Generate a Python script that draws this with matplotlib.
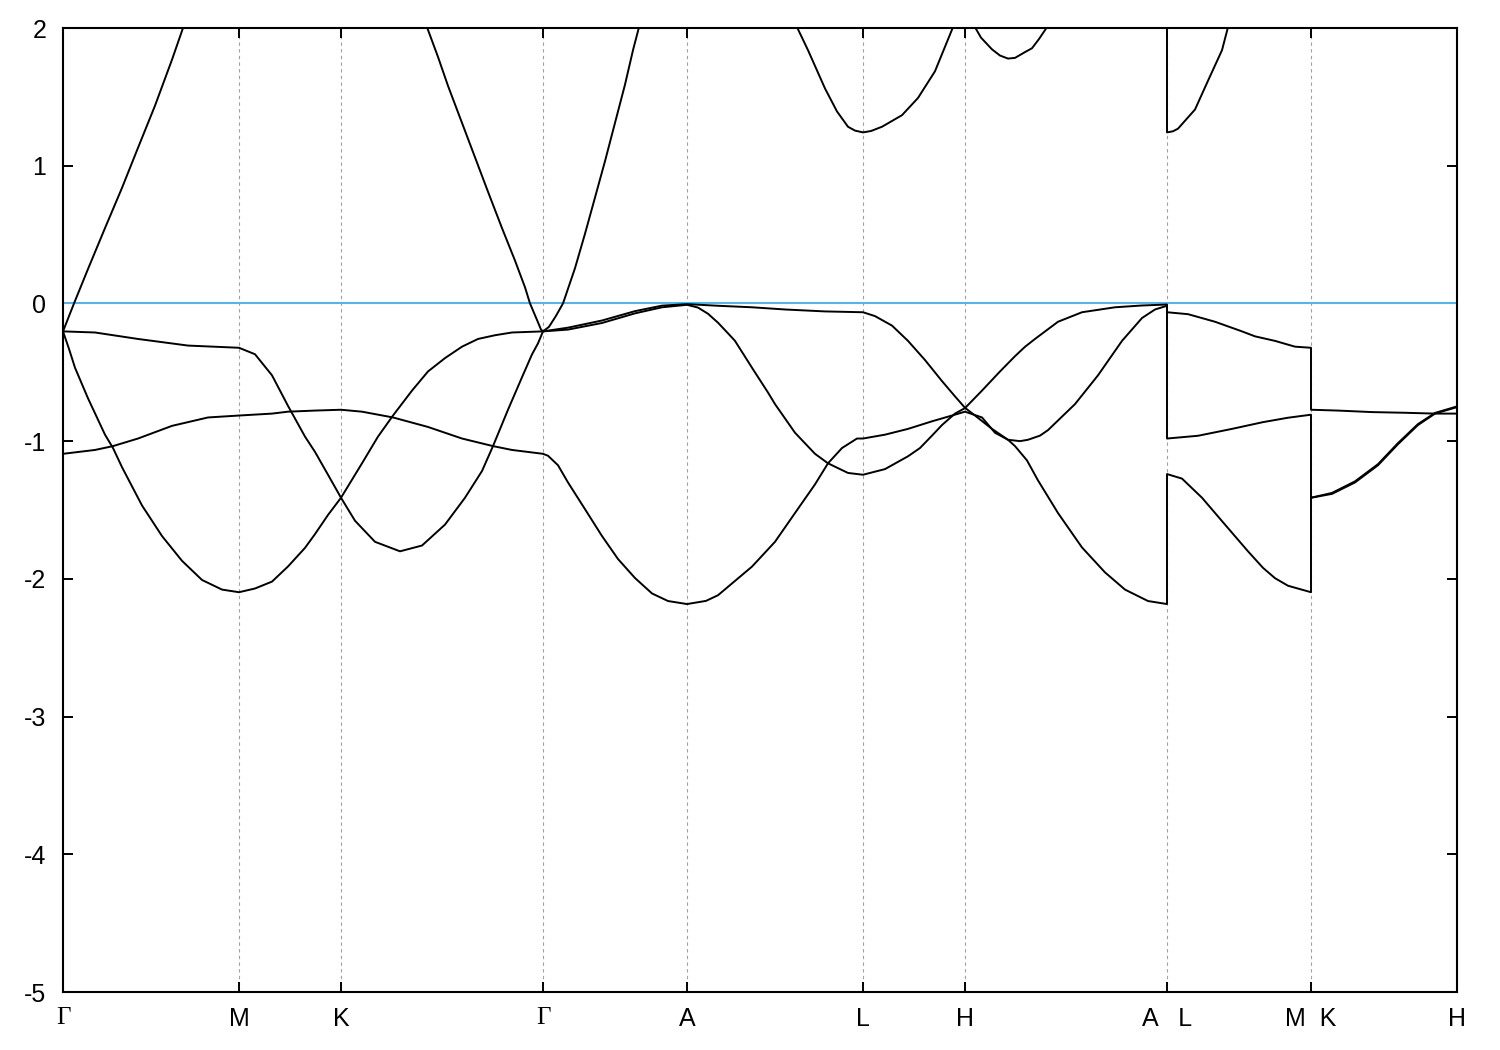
import numpy as np
import matplotlib.pyplot as plt

plt.rcParams['font.family'] = ['Liberation Sans Narrow', 'Liberation Sans', 'DejaVu Sans']
plt.rcParams['axes.unicode_minus'] = False

# high-symmetry points along the path (path length, arbitrary units)
kpts = [0, 176, 278, 480, 624, 800, 902, 1104, 1248, 1394]
klabels = ['Γ', 'M', 'K', 'Γ', 'A', 'L', 'H', 'A   L', 'M  K', 'H']

# band a: conduction band (goes off the top of the window)
band_a_k = [0, 11, 25, 42, 59, 75, 92, 109, 120, 135, 176,
            278, 350, 364, 375, 385, 399, 412, 425, 439, 452, 462, 467, 474, 478, 480,
            486, 493, 500, 512, 522, 532, 542, 552, 562, 570, 576, 590, 624,
            720, 734, 745, 762, 774, 785, 792, 800,
            808, 819, 839, 855, 872, 890, 902,
            912, 918, 929, 937, 945, 952, 962, 969, 976, 984, 1000, 1104,
            1104, 1110, 1115, 1132, 1145, 1159, 1165, 1180, 1248,
            1248, 1394]
band_a_e = [-0.203, 0.0, 0.25, 0.547, 0.839, 1.13, 1.436, 1.77, 2.0, 2.35, 3.0,
            3.0, 2.28, 2.006, 1.79, 1.58, 1.311, 1.061, 0.811, 0.547, 0.311, 0.117, 0.0, -0.12, -0.19, -0.203,
            -0.17, -0.09, 0.0, 0.256, 0.506, 0.769, 1.033, 1.311, 1.589, 1.839, 2.006, 2.4, 3.0,
            2.2, 2.006, 1.839, 1.561, 1.394, 1.283, 1.255, 1.242,
            1.252, 1.283, 1.367, 1.492, 1.686, 2.006, 2.2,
            2.006, 1.93, 1.845, 1.80, 1.778, 1.783, 1.825, 1.853, 1.92, 2.006, 2.3, 3.0,
            1.242, 1.25, 1.269, 1.408, 1.617, 1.839, 2.006, 2.4, 3.0,
            3.0, 2.6]

# band b
band_b_k = [0, 32, 75, 125, 176,
            192, 209, 225, 242, 252, 265, 278,
            292, 312, 337, 359, 382, 402, 419, 430, 445, 459, 469, 475, 480,
            505, 539, 572, 599, 624,
            655, 689, 722, 762, 800,
            812, 829, 845, 862, 879, 892, 902,
            912, 929, 945, 952, 964, 975, 995, 1019, 1042, 1062, 1085, 1104,
            1104, 1119, 1139, 1162, 1185, 1200, 1212, 1225, 1248,
            1248, 1269, 1292, 1315, 1335, 1355, 1372, 1394]
band_b_e = [-0.203, -0.211, -0.258, -0.306, -0.322,
            -0.369, -0.522, -0.744, -0.967, -1.078, -1.244, -1.411,
            -1.578, -1.731, -1.800, -1.758, -1.606, -1.411, -1.217, -1.036, -0.772, -0.536, -0.37, -0.29, -0.203,
            -0.176, -0.124, -0.056, -0.016, -0.005,
            -0.017, -0.028, -0.044, -0.058, -0.064,
            -0.092, -0.161, -0.272, -0.411, -0.564, -0.675, -0.758,
            -0.814, -0.911, -0.990, -1.036, -1.14, -1.285, -1.522, -1.772, -1.953, -2.078, -2.161, -2.183,
            -1.239, -1.272, -1.411, -1.606, -1.800, -1.920, -1.995, -2.050, -2.097,
            -1.411, -1.376, -1.292, -1.167, -1.014, -0.876, -0.795, -0.748]

# band c
band_c_k = [0, 6, 12, 25, 42, 50, 59, 79, 99, 119, 139, 159, 176,
            192, 209, 225, 242, 252, 265, 278,
            299, 315, 330, 349, 365, 382, 399, 415, 432, 449, 480,
            505, 539, 572, 599, 624,
            635, 645, 655, 665, 672, 689, 705, 712, 722, 732, 752, 765, 785, 800,
            822, 845, 857, 869, 879, 892, 902,
            919, 937, 952, 962, 972, 995, 1019, 1052, 1079, 1104,
            1104, 1125, 1152, 1179, 1192, 1212, 1232, 1248,
            1248, 1275, 1309, 1342, 1372, 1394]
band_c_e = [-0.203, -0.33, -0.467, -0.689, -0.953, -1.05, -1.189, -1.467, -1.689, -1.869, -2.008, -2.078, -2.097,
            -2.07, -2.02, -1.91, -1.775, -1.675, -1.536, -1.411,
            -1.161, -0.967, -0.814, -0.633, -0.494, -0.397, -0.314, -0.258, -0.231, -0.211, -0.203,
            -0.190, -0.142, -0.072, -0.028, -0.010,
            -0.03, -0.075, -0.14, -0.217, -0.272, -0.467, -0.647, -0.731, -0.835, -0.939, -1.092, -1.161, -1.231, -1.244,
            -1.203, -1.11, -1.05, -0.96, -0.883, -0.800, -0.760,
            -0.633, -0.494, -0.383, -0.315, -0.258, -0.133, -0.064, -0.028, -0.015, -0.008,
            -0.064, -0.078, -0.133, -0.203, -0.239, -0.272, -0.314, -0.322,
            -0.772, -0.778, -0.789, -0.794, -0.800, -0.800]

# band d
band_d_k = [0, 32, 50, 75, 109, 145, 176,
            209, 225, 252, 278,
            299, 330, 365, 399, 430, 449, 480,
            485, 495, 505, 522, 539, 555, 572, 589, 605, 624,
            643, 655, 689, 712, 732, 752, 765, 779, 794, 800,
            822, 845, 869, 889, 902,
            919, 932, 945, 957, 965, 977, 985, 1012, 1035, 1059, 1079, 1092, 1104,
            1104, 1135, 1169, 1200, 1225, 1248,
            1248, 1269, 1292, 1315, 1335, 1355, 1372, 1394]
band_d_e = [-1.092, -1.064, -1.036, -0.981, -0.889, -0.828, -0.814,
            -0.800, -0.786, -0.778, -0.772,
            -0.786, -0.828, -0.897, -0.981, -1.036, -1.064, -1.092,
            -1.106, -1.175, -1.300, -1.494, -1.689, -1.856, -1.994, -2.106, -2.161, -2.183,
            -2.160, -2.119, -1.911, -1.731, -1.522, -1.314, -1.161, -1.050, -0.981, -0.981,
            -0.953, -0.911, -0.856, -0.814, -0.786,
            -0.828, -0.939, -0.990, -1.000, -0.99, -0.96, -0.92, -0.731, -0.522, -0.272, -0.106, -0.044, -0.017,
            -0.981, -0.961, -0.911, -0.862, -0.830, -0.808,
            -1.411, -1.383, -1.300, -1.175, -1.022, -0.883, -0.800, -0.753]

bands = [(band_a_k, band_a_e), (band_b_k, band_b_e),
         (band_c_k, band_c_e), (band_d_k, band_d_e)]

fig = plt.figure(figsize=(15, 10.5), dpi=100)
ax = fig.add_axes([63 / 1500, 1 - 992 / 1050, 1394 / 1500, 964 / 1050])

for k in kpts[1:-1]:
    ax.axvline(k, color='#a0a0a0', lw=0.8, dashes=(3, 3), zorder=1)

ax.axhline(0, color='#56b4e9', lw=1.5, zorder=2)

for bk, be in bands:
    ax.plot(bk, be, color='black', lw=1.4, zorder=3)

ax.set_xlim(kpts[0], kpts[-1])
ax.set_ylim(-5, 2)
ax.set_yticks(np.arange(-5, 3, 1))
ax.set_xticks(kpts)
ax.set_xticklabels(klabels)
for lab in ax.get_xticklabels():
    if lab.get_text() == 'Γ':
        lab.set_family(['Liberation Serif', 'DejaVu Serif'])
        lab.set_fontsize(20)

ax.tick_params(axis='both', direction='in', top=True, right=True,
               length=7, width=1.4, labelsize=18)
ax.tick_params(axis='x', pad=11)
ax.tick_params(axis='y', pad=12)
for s in ax.spines.values():
    s.set_linewidth(1.5)

fig.savefig('out.png', dpi=100)
